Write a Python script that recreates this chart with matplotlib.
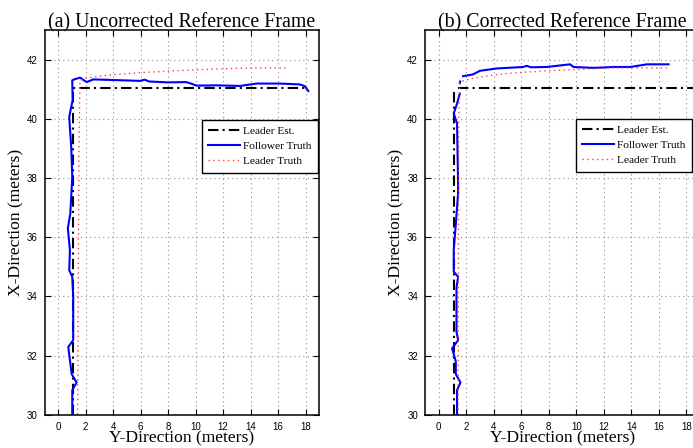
import numpy as np
import matplotlib
matplotlib.use("Agg")
import matplotlib.pyplot as plt

nan = np.nan

# -----------------------------------------------------------------------------
# Data  (Y-direction = horizontal axis, X-direction = vertical axis)
# -----------------------------------------------------------------------------

TITLES = ["(a) Uncorrected Reference Frame", "(b) Corrected Reference Frame"]
XTICKS = [0, 2, 4, 6, 8, 10, 12, 14, 16, 18]
YTICKS = [30, 32, 34, 36, 38, 40, 42]
LABELS = ["Leader Est.", "Follower Truth", "Leader Truth"]

# panel (a)
lead_est_a_y = [1.09, 1.09, 18.2]
lead_est_a_x = [30.0, 41.05, 41.05]

lead_truth_a_y = [1.41, 1.45, 1.51, 1.58, 2.0, 3.0, 4.0, 6.0, 8.4, 10.3, 12.7, 14.5, 16.6]
lead_truth_a_x = [30.0, 34.0, 39.0, 41.3, 41.37, 41.44, 41.49, 41.56, 41.62, 41.66, 41.70, 41.72, 41.72]

follow_a_y = [1.02, 1.02, 1.34, 0.98, 0.73, 1.09, 1.09, 1.02, 0.80, 0.85, 0.70, 0.88,
              1.02, 0.95, 0.80, 0.90, 1.05, 1.02, 1.16, 1.58, 2.07, 2.55, 4.0, 5.95,
              6.3, 6.6, 8.0, 9.3, 9.6, 10.07, 11.5, 13.23, 14.44, 16.14, 17.6, 17.95, 18.2]
follow_a_x = [30.0, 30.83, 31.09, 31.37, 32.29, 32.52, 34.0, 34.66, 34.88, 35.56, 36.3, 36.8,
              38.03, 39.0, 40.06, 40.3, 40.63, 41.3, 41.33, 41.39, 41.24, 41.33, 41.31, 41.28,
              41.32, 41.26, 41.23, 41.24, 41.2, 41.12, 41.13, 41.11, 41.19, 41.19, 41.16, 41.1, 40.94]

# panel (b)
lead_est_b_y = [1.09, 1.09, nan, 1.41, 19.0]
lead_est_b_x = [30.0, 40.97, nan, 41.05, 41.05]

lead_truth_b_y = [1.41, 1.45, 1.53, 2.2, 2.99, 4.2, 5.42, 7.85, 10.28, 12.7, 15.87, 16.6]
lead_truth_b_x = [30.0, 40.0, 41.24, 41.34, 41.41, 41.49, 41.55, 41.62, 41.67, 41.72, 41.72, 41.72]

follow_b_y = [1.33, 1.33, 1.58, 1.24, 1.24, 0.97, 1.41, 1.29, 1.29, 1.41, 1.09, 1.09, 1.25,
              1.41, 1.40, 1.33, 1.09, 1.33, 1.53, nan, 1.53, 1.56, nan, 1.77, 2.5, 2.99,
              4.2, 6.14, 6.4, 6.7, 7.85, 9.55, 9.8, 11.26, 12.7, 13.92, 15.14, 16.71]
follow_b_x = [30.0, 30.83, 31.09, 31.37, 31.8, 32.24, 32.52, 32.8, 34.3, 34.66, 34.83, 35.56, 36.5,
              37.5, 38.03, 39.84, 40.18, 40.51, 40.85, nan, 41.2, 41.26, nan, 41.44, 41.5, 41.62,
              41.7, 41.75, 41.79, 41.74, 41.75, 41.84, 41.75, 41.72, 41.75, 41.75, 41.84, 41.84]

PANELS = [
    (lead_est_a_y, lead_est_a_x, follow_a_y, follow_a_x, lead_truth_a_y, lead_truth_a_x),
    (lead_est_b_y, lead_est_b_x, follow_b_y, follow_b_x, lead_truth_b_y, lead_truth_b_x),
]

# -----------------------------------------------------------------------------
# Figure
# -----------------------------------------------------------------------------

SERIF = ["Liberation Serif", "DejaVu Serif"]
SANS  = ["Liberation Sans", "DejaVu Sans"]

W, H = 693, 448
fig = plt.figure(figsize=(W / 100, H / 100), dpi=100)

boxes = [(44.5, 30, 274.8, 384.7), (425, 30, 275, 384.7)]
legend_anchor = [(0.995, 0.766), (0.971, 0.769)]

for i, (box, data) in enumerate(zip(boxes, PANELS)):
    x0, y0, w, h = box
    ax = fig.add_axes([x0 / W, 1 - (y0 + h) / H, w / W, h / H])
    ey, ex, fy, fx, ty, tx = data

    ax.plot(ey, ex, color="black", lw=1.5, linestyle=(0, (5, 2, 1, 2)), label=LABELS[0])
    ax.plot(fy, fx, color="#0000ff", lw=1.5, label=LABELS[1])
    ax.plot(ty, tx, color="#ff4040", lw=1.0, linestyle=(0, (1, 2.5)), label=LABELS[2])

    ax.set_xlim(-1, 19)
    ax.set_ylim(30, 43)
    ax.set_xticks(XTICKS)
    ax.set_yticks(YTICKS)
    ax.grid(True, color="#909090", linestyle=(0, (1, 3)), lw=0.8)
    ax.tick_params(direction="in", length=4, width=0.8, top=True, right=True,
                   labelsize=7, pad=5)
    for lab in ax.get_xticklabels() + ax.get_yticklabels():
        lab.set_family(SANS)
    for s in ax.spines.values():
        s.set_linewidth(1.1)

    ax.set_title(TITLES[i], family=SERIF, fontsize=14.3, pad=2)
    ax.set_xlabel("Y-Direction (meters)", family=SERIF, fontsize=12.6, labelpad=-1)
    ax.set_ylabel("X-Direction (meters)", family=SERIF, fontsize=12.6, labelpad=2)

    leg = ax.legend(loc="upper right", bbox_to_anchor=legend_anchor[i], borderaxespad=0,
                    prop={"family": SERIF, "size": 8.2}, fancybox=False, framealpha=1,
                    edgecolor="black", handlelength=2.8, labelspacing=0.45,
                    borderpad=0.55, handletextpad=0.3)
    leg.get_frame().set_linewidth(1.0)

fig.savefig("out.png", dpi=100)
